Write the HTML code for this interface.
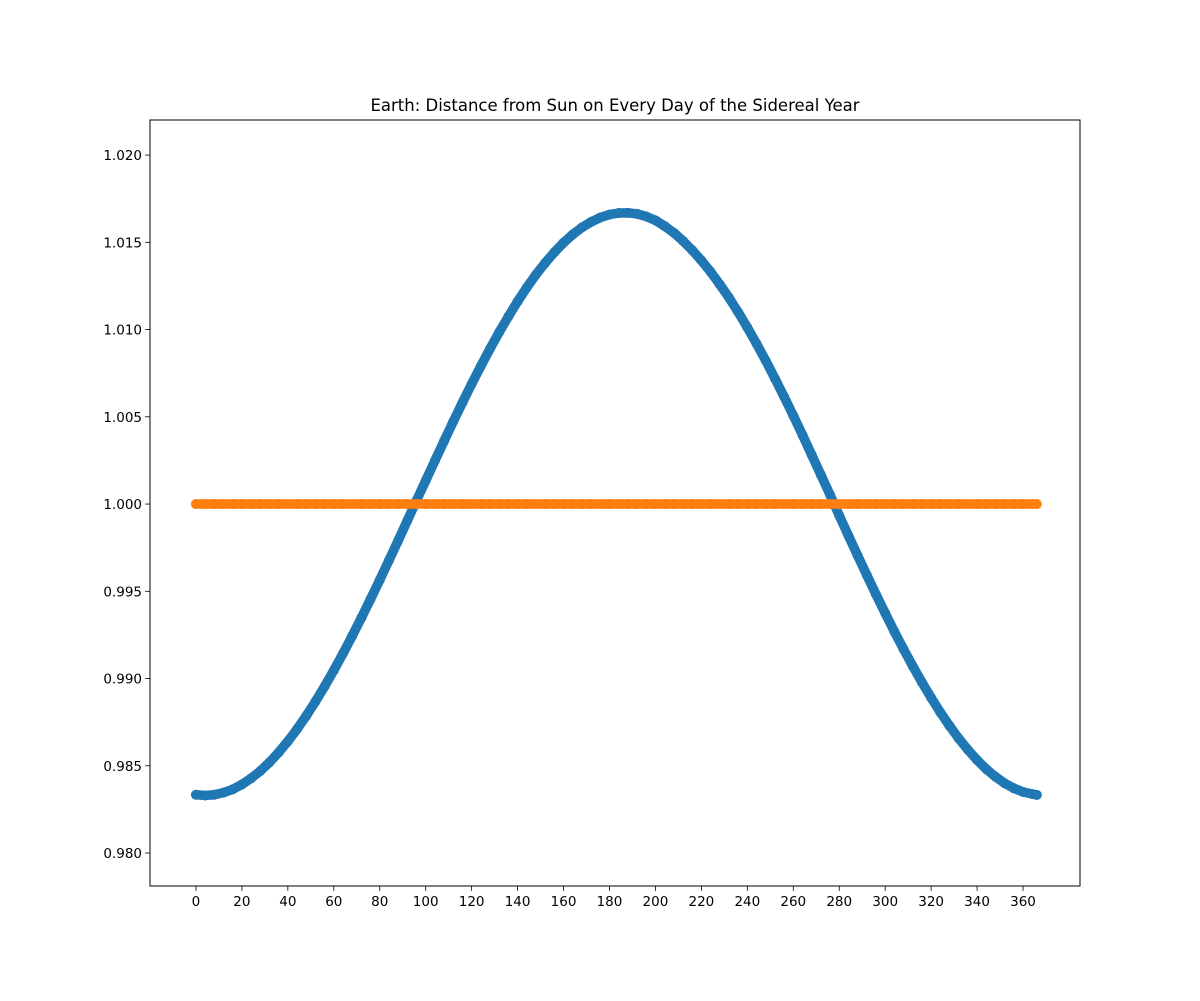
<!DOCTYPE html>
<html><head><meta charset="utf-8"><style>
body{margin:0;background:#fff;}
svg text{font-family:"DejaVu Sans","Liberation Sans",sans-serif;fill:#000;}
</style></head><body>
<svg id="chart" width="1200" height="996" xmlns="http://www.w3.org/2000/svg">
<rect width="1200" height="996" fill="#fff"/>
<text x="615" y="111" font-size="16.5" text-anchor="middle">Earth: Distance from Sun on Every Day of the Sidereal Year</text>
<g id="marks"></g>
<g id="axes"></g>
</svg>
<script>
const days = [0,4,8,12,16,20,24,28,32,36,40,44,48,52,56,60,64,68,72,76,80,84,88,92,96,100,104,108,112,116,120,124,128,132,136,140,144,148,152,156,160,164,168,172,176,180,184,188,192,196,200,204,208,212,216,220,224,228,232,236,240,244,248,252,256,260,264,268,272,276,280,284,288,292,296,300,304,308,312,316,320,324,328,332,336,340,344,348,352,356,360,364,366];
const distance = [0.98334,0.98330,0.98334,0.98346,0.98365,0.98393,0.98428,0.98470,0.98520,0.98577,0.98640,0.98710,0.98786,0.98868,0.98955,0.99047,0.99143,0.99244,0.99348,0.99455,0.99565,0.99677,0.99790,0.99905,1.00020,1.00134,1.00248,1.00361,1.00473,1.00582,1.00688,1.00791,1.00890,1.00985,1.01075,1.01161,1.01241,1.01315,1.01382,1.01443,1.01498,1.01545,1.01585,1.01617,1.01642,1.01659,1.01668,1.01669,1.01663,1.01648,1.01626,1.01593,1.01555,1.01508,1.01455,1.01396,1.01331,1.01259,1.01183,1.01100,1.01012,1.00919,1.00822,1.00720,1.00615,1.00507,1.00396,1.00282,1.00168,1.00053,0.99934,0.99819,0.99705,0.99593,0.99482,0.99375,0.99269,0.99168,0.99071,0.98978,0.98890,0.98806,0.98729,0.98657,0.98592,0.98533,0.98481,0.98437,0.98400,0.98371,0.98350,0.98338,0.98333];
const reference = days.map(() => 1.0);
const xTicks = [0,20,40,60,80,100,120,140,160,180,200,220,240,260,280,300,320,340,360];
const yTicks = [0.980,0.985,0.990,0.995,1.000,1.005,1.010,1.015,1.020];

const L=150,R=1080,T=120,B=886;
const xMin=-20.0,xMax=384.8,yMin=0.97811,yMax=1.02201;
const xs=v=>L+(v-xMin)/(xMax-xMin)*(R-L);
const ys=v=>B-(v-yMin)/(yMax-yMin)*(B-T);
const NS='http://www.w3.org/2000/svg';
const marks=document.getElementById('marks');
const axes=document.getElementById('axes');
function mk(tag,attrs,parent){const e=document.createElementNS(NS,tag);for(const k in attrs)e.setAttribute(k,attrs[k]);parent.appendChild(e);return e;}

function series(vals,color,name){
  const pts=days.map((d,i)=>xs(d).toFixed(2)+','+ys(vals[i]).toFixed(2)).join(' ');
  const band=mk('polyline',{points:pts,fill:'none',stroke:color,'stroke-width':9.5,'stroke-linecap':'round','stroke-linejoin':'round'},marks);
  
  
  days.forEach((d,i)=>{
    const c=mk('circle',{cx:xs(d),cy:ys(vals[i]),r:5,fill:color},marks);
    
    
  });
}
series(distance,'#1f77b4','earth-distance');
series(reference,'#ff7f0e','reference');

const frame=mk('rect',{x:L,y:T,width:R-L,height:B-T,fill:'none',stroke:'#000','stroke-width':1},axes);



xTicks.forEach(t=>{
  const x=xs(t);
  mk('line',{x1:x,x2:x,y1:B,y2:B+4.9,stroke:'#000','stroke-width':0.8},axes);
  const tx=mk('text',{x:x,y:B+20,'font-size':13.5,'text-anchor':'middle'},axes);
  tx.textContent=t;
  
  
});
yTicks.forEach(t=>{
  const y=ys(t);
  mk('line',{x1:L-4.9,x2:L,y1:y,y2:y,stroke:'#000','stroke-width':0.8},axes);
  const tx=mk('text',{x:L-8,y:y+5,'font-size':13.5,'text-anchor':'end'},axes);
  tx.textContent=t.toFixed(3);
  
  
});
</script>
</body></html>
